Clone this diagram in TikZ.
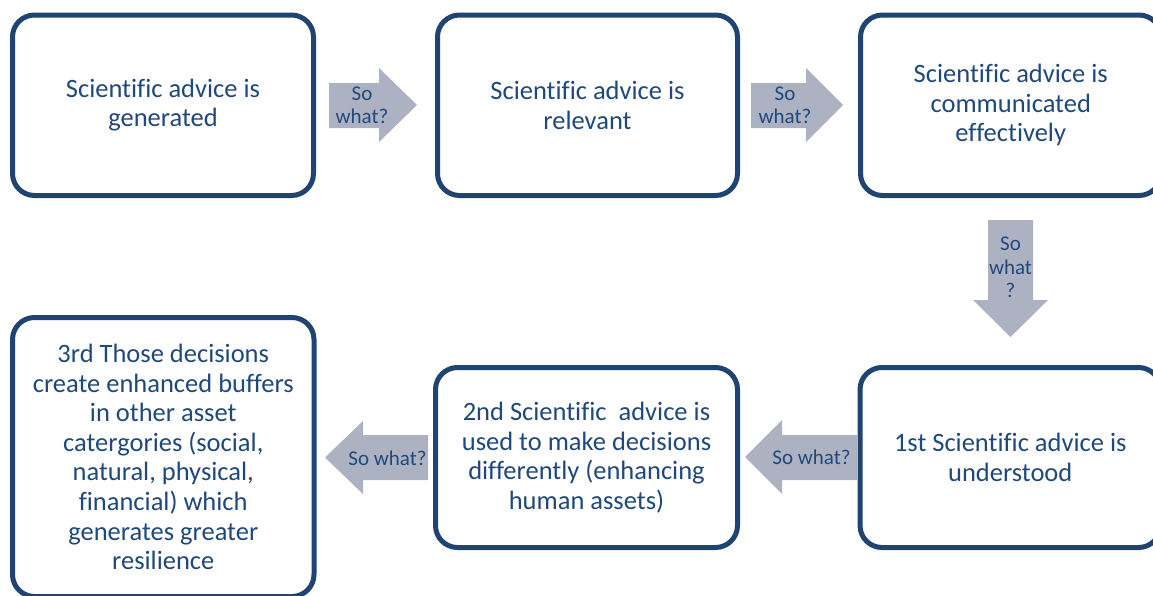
\documentclass[tikz,border=0pt]{standalone}
\usepackage{fontspec}
\setmainfont[Ligatures={NoCommon}]{Carlito}
\definecolor{boxline}{HTML}{1F4472}
\definecolor{boxtext}{HTML}{1F497D}
\definecolor{arrowfill}{HTML}{ADB2C2}
\tikzset{
  stagebox/.style={draw=boxline, line width=5pt, rounded corners=22pt, fill=white,
    align=center, text=boxtext, inner sep=0pt,
    font=\fontsize{26.5}{29.6}\selectfont},
  blockarrow/.style={fill=arrowfill, draw=none},
  arrowtext/.style={align=center, text=boxtext, inner sep=0pt,
    font=\fontsize{21}{23.5}\selectfont}
}
\begin{document}
\begin{tikzpicture}[x=1pt,y=-1pt]
\useasboundingbox (0,0) rectangle (1153,595);
\clip (0,0) rectangle (1153,595);
% boxes
\node[stagebox, minimum width=301pt, minimum height=180.5pt] (b1) at (163,105.25)
  {Scientific advice is\\generated};
\node[stagebox, minimum width=300pt, minimum height=180.5pt] (b2) at (587.5,105.25)
  {Scientific advice is\\relevant};
\node[stagebox, minimum width=300.5pt, minimum height=180.5pt] (b3) at (1010.75,105.25)
  {Scientific advice is\\communicated\\effectively};
\node[stagebox, minimum width=300.5pt, minimum height=180pt] (b6) at (1010.25,457.5)
  {1st Scientific advice is\\understood};
\node[stagebox, minimum width=302pt, minimum height=180pt] (b5) at (586.5,457.5)
  {2nd Scientific\ \ advice is\\used to make decisions\\differently (enhancing\\human assets)};
\node[stagebox, minimum width=301.5pt, minimum height=279pt] (b4) at (163.25,457)
  {3rd Those decisions\\create enhanced buffers\\in other asset\\catergories (social,\\natural, physical,\\financial) which\\generates greater\\resilience};
% block arrows
\fill[blockarrow] (329,83) -- (379,83) -- (379,68) -- (417,105) -- (379,142) -- (379,128) -- (329,128) -- cycle;
\node[arrowtext] (a1) at (362,105.5) {So\\what?};
\fill[blockarrow] (751,83) -- (806,83) -- (806,68) -- (843,105) -- (806,142) -- (806,128) -- (751,128) -- cycle;
\node[arrowtext] (a2) at (785,105.5) {So\\what?};
\fill[blockarrow] (988,220) -- (1033,220) -- (1033,300) -- (1048,300) -- (1010.5,337) -- (973,300) -- (988,300) -- cycle;
\node[arrowtext] (a3) at (1010.5,267.5) {So\\what\\?};
\fill[blockarrow] (857,435) -- (782,435) -- (782,420) -- (745,457) -- (782,494) -- (782,480) -- (857,480) -- cycle;
\node[arrowtext] (a4) at (811.5,457.5) {So what?};
\fill[blockarrow] (428,435) -- (363,435) -- (363,421) -- (325,457.5) -- (363,494) -- (363,480) -- (428,480) -- cycle;
\node[arrowtext] (a5) at (387.5,458) {So what?};
\end{tikzpicture}
\end{document}
